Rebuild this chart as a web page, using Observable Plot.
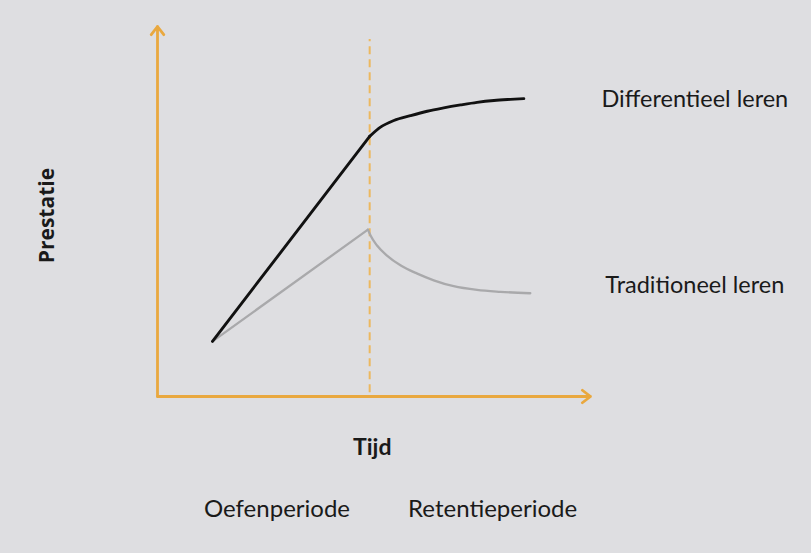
<!DOCTYPE html>
<html>
<head>
<meta charset="utf-8">
<script src="https://cdn.jsdelivr.net/npm/d3@7"></script>
<script src="https://cdn.jsdelivr.net/npm/@observablehq/plot@0.6"></script>
<style>
  html, body { margin: 0; padding: 0; background: #dedee1; }
  #chart svg { display: block; }
</style>
</head>
<body>
<div id="chart"></div>
<script>
// Time (t) vs performance (p), abstract units
// Practice period (straight rise)
const diffPracticeT = [1.27, 4.90];
const diffPracticeP = [1.49, 7.03];
const tradPracticeT = [1.27, 4.86];
const tradPracticeP = [1.49, 4.51];
// Retention period (curves)
const diffRetT = [4.90, 5.15, 5.46, 5.84, 6.23, 6.61, 7.00, 7.38, 7.77, 8.15, 8.46];
const diffRetP = [7.03, 7.28, 7.46, 7.59, 7.71, 7.80, 7.88, 7.95, 8.00, 8.03, 8.05];
const tradRetT = [4.86, 4.92, 5.07, 5.30, 5.62, 6.00, 6.38, 6.84, 7.38, 7.92, 8.61];
const tradRetP = [4.51, 4.35, 4.08, 3.81, 3.54, 3.32, 3.14, 2.98, 2.88, 2.83, 2.79];

const splitT = 4.90;            // end of practice period
const dashRange = [0.1, 9.65];
const axisMax = {t: 10, p: 10};

const seriesLabels = ["Differentieel leren", "Traditioneel leren"];
const seriesLabelPos = [[12.41, 8.04], [12.41, 3.0]];
const periodLabels = ["Oefenperiode", "Retentieperiode"];
const periodLabelPos = [[2.76, -3.06], [7.74, -3.06]];
const xTitle = "Tijd", xTitlePos = [4.96, -1.38];
const yTitle = "Prestatie", yTitlePos = [-2.54, 4.89];

const zip = (T, P) => T.map((t, i) => ({t, p: P[i]}));
const orange = "#e9a83f";
const textColor = "#1a1a1a";

const chart = Plot.plot({
  width: 811,
  height: 553,
  margin: 0,
  style: {background: "transparent", overflow: "visible"},
  x: {domain: [0, 10], range: [157, 590], axis: null},
  y: {domain: [0, 10], range: [396, 26], axis: null},
  marks: [
    Plot.ruleX([splitT], {y1: dashRange[0], y2: dashRange[1], stroke: "#ecb85f", strokeWidth: 2, strokeDasharray: "8,5"}),
    Plot.arrow([{x1: 0, y1: 0, x2: axisMax.t, y2: 0}], {x1: "x1", y1: "y1", x2: "x2", y2: "y2", stroke: orange, strokeWidth: 2.8, headLength: 5.5, headAngle: 75, insetStart: 0, insetEnd: 0}),
    Plot.arrow([{x1: 0, y1: 0, x2: 0, y2: axisMax.p}], {x1: "x1", y1: "y1", x2: "x2", y2: "y2", stroke: orange, strokeWidth: 2.8, headLength: 5.5, headAngle: 75, insetStart: 0, insetEnd: 0}),
    Plot.line(zip(tradPracticeT, tradPracticeP), {x: "t", y: "p", stroke: "#a9a9ab", strokeWidth: 2.3}),
    Plot.line(zip(tradRetT, tradRetP), {x: "t", y: "p", stroke: "#a9a9ab", strokeWidth: 2.3, curve: "monotone-x"}),
    Plot.line(zip(diffPracticeT, diffPracticeP), {x: "t", y: "p", stroke: "#111111", strokeWidth: 2.9, strokeLinejoin: "round"}),
    Plot.line(zip(diffRetT, diffRetP), {x: "t", y: "p", stroke: "#111111", strokeWidth: 2.9, curve: "monotone-x"}),
    Plot.text(seriesLabels, {x: (d, i) => seriesLabelPos[i][0], y: (d, i) => seriesLabelPos[i][1], text: d => d, fontSize: 23.5, fontFamily: "Lato", fill: textColor}),
    Plot.text(periodLabels, {x: (d, i) => periodLabelPos[i][0], y: (d, i) => periodLabelPos[i][1], text: d => d, fontSize: 24, fontFamily: "Lato", fill: textColor}),
    Plot.text([xTitle], {x: xTitlePos[0], y: xTitlePos[1], text: d => d, fontSize: 23, fontWeight: "bold", fontFamily: "Lato", fill: textColor}),
    Plot.text([yTitle], {x: yTitlePos[0], y: yTitlePos[1], text: d => d, rotate: -90, fontSize: 21, fontWeight: "bold", fontFamily: "Open Sans", fill: textColor})
  ]
});
document.getElementById("chart").appendChild(chart);
</script>
</body>
</html>
